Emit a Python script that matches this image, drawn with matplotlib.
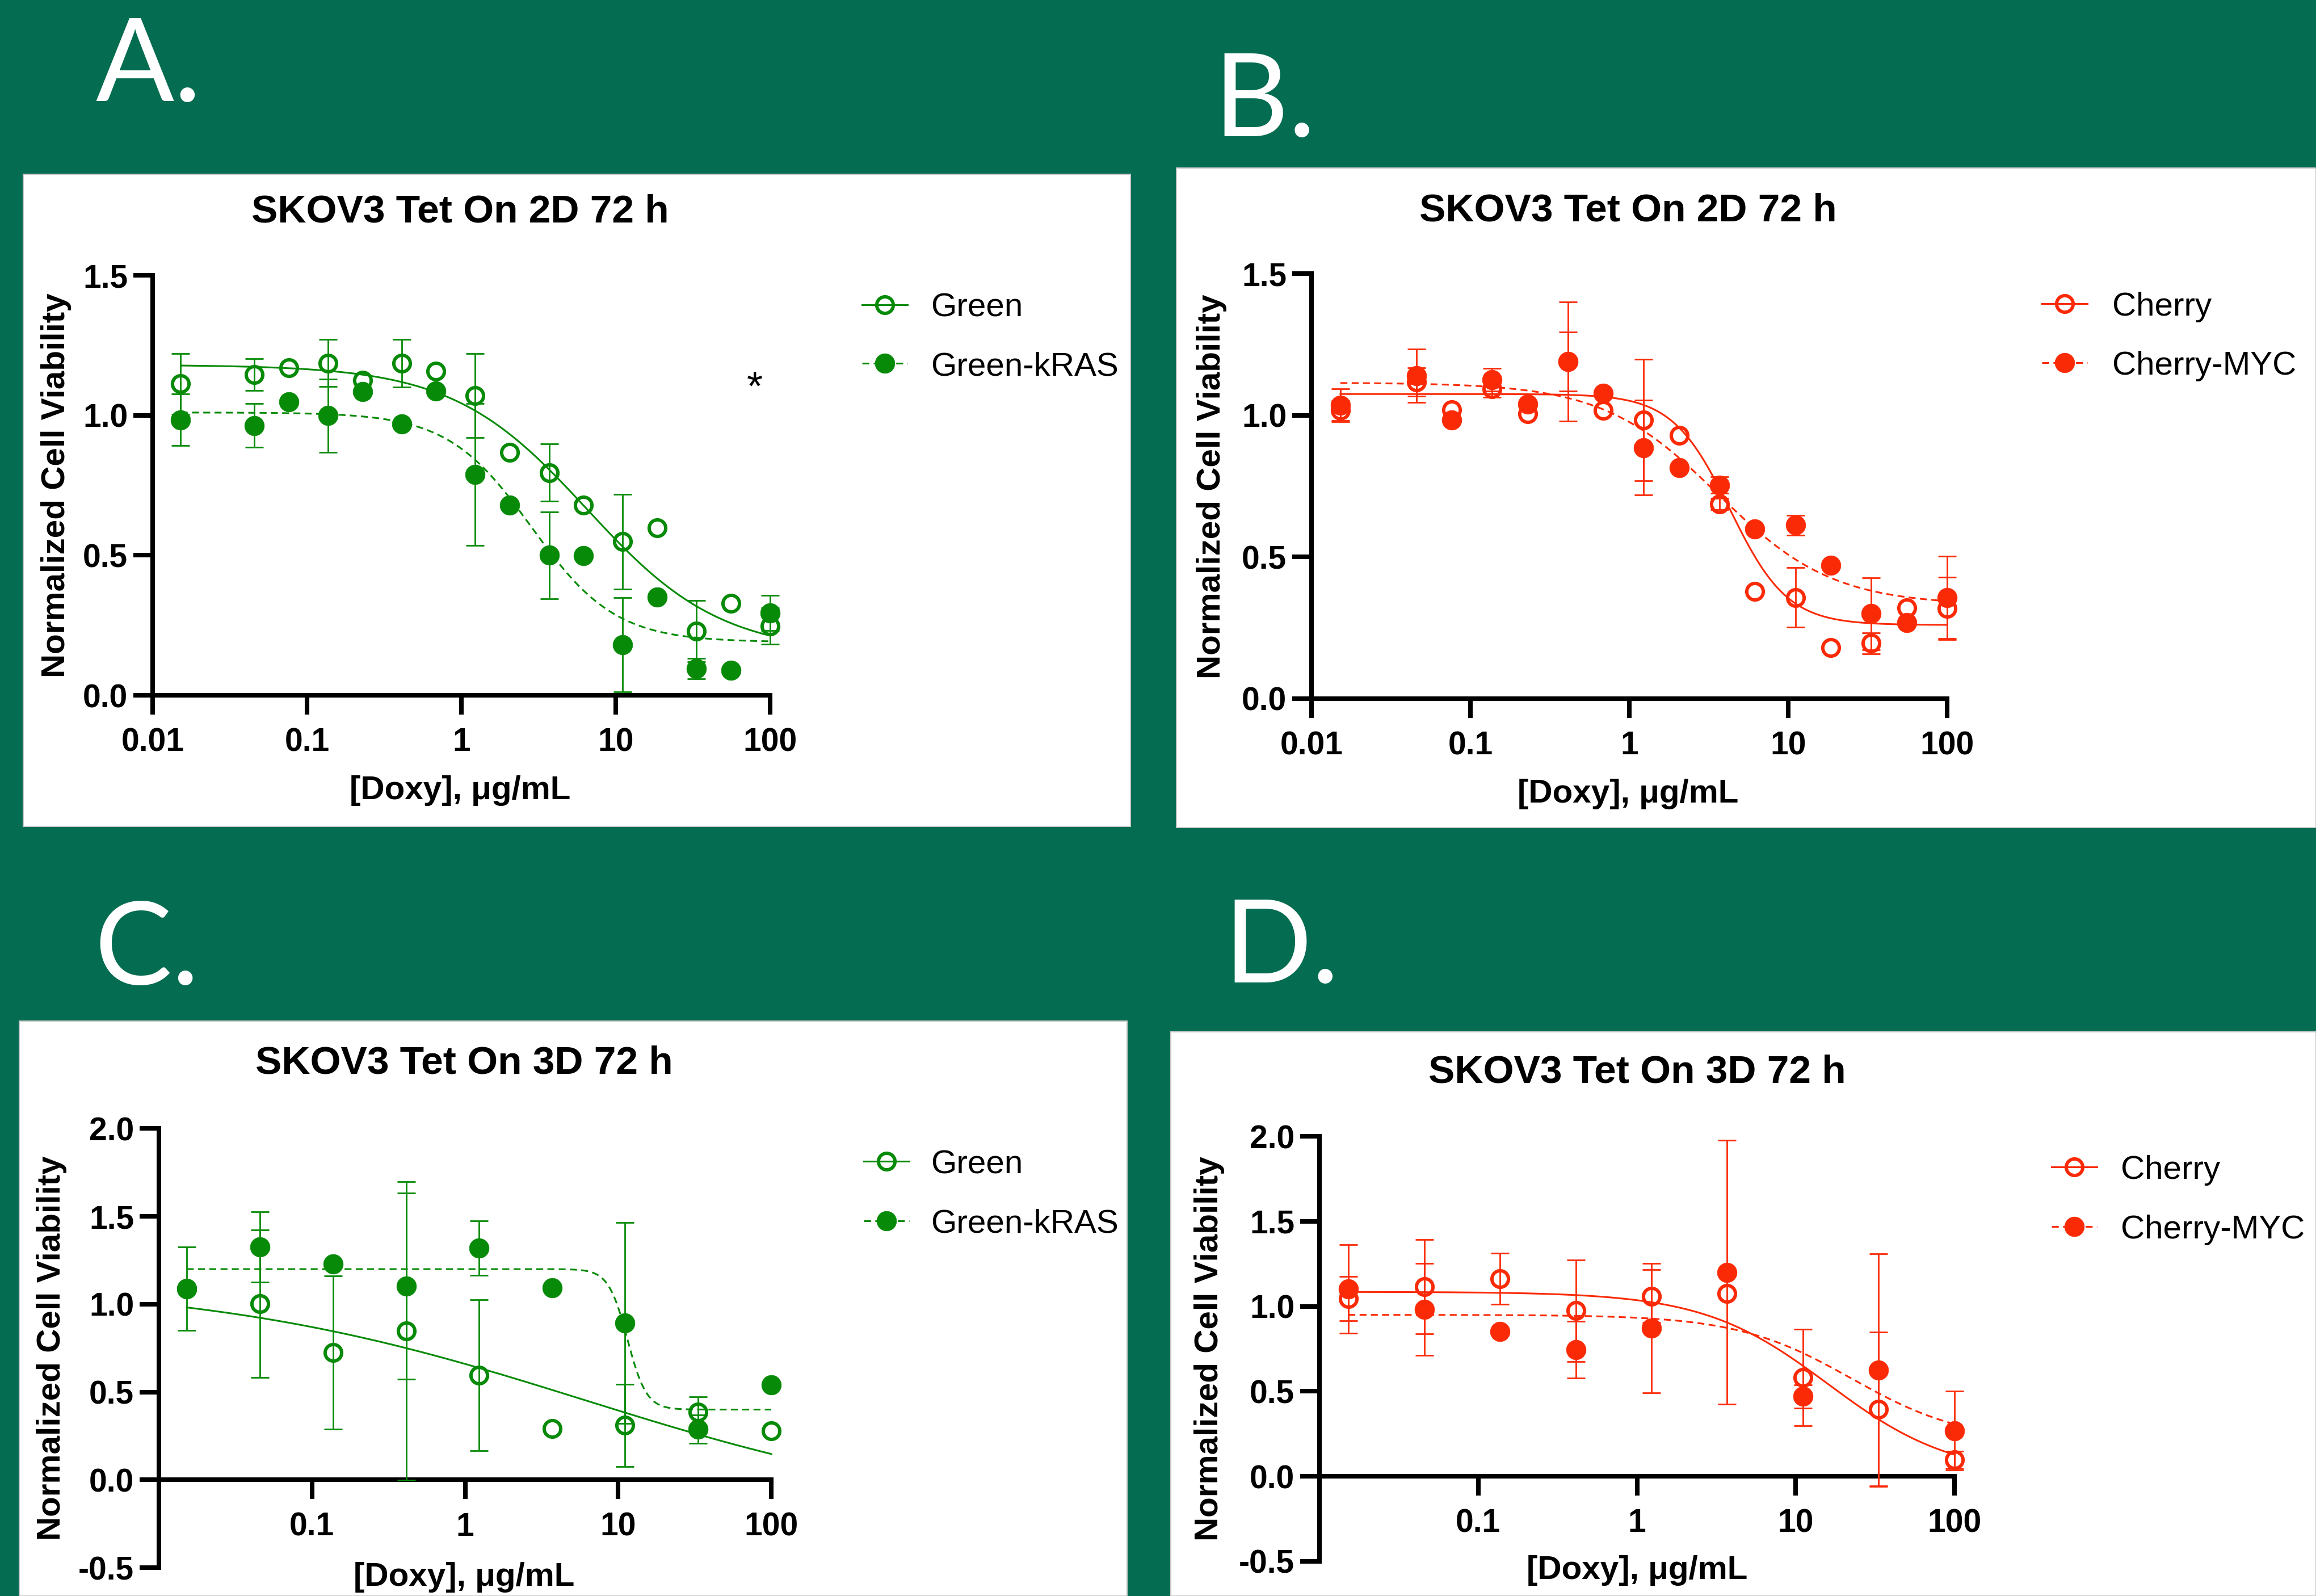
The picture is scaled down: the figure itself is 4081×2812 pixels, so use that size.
import numpy as np
import matplotlib
matplotlib.use("Agg")
import matplotlib.pyplot as plt
from matplotlib.patches import Rectangle
from matplotlib.lines import Line2D

# ---------------------------------------------------------------- data
doses_2d = [0.0152, 0.0457, 0.0762, 0.137, 0.229, 0.412, 0.686, 1.23, 2.06,
            3.70, 6.17, 11.1, 18.5, 33.3, 55.6, 100.0]
doses_3d = [0.0152, 0.0457, 0.137, 0.412, 1.23, 3.70, 11.1, 33.3, 100.0]

# Panel A : 2D, Green vs Green-kRAS
a_green = [1.112, 1.145, 1.169, 1.186, 1.124, 1.186, 1.157, 1.071, 0.868, 0.795,
           0.679, 0.549, 0.598, 0.229, 0.328, 0.247]
a_green_err = [0.109, 0.057, 0, 0.084, 0, 0.085, 0, 0.150, 0, 0.102,
               0, 0.169, 0, 0.110, 0, 0.065]
a_kras = [0.984, 0.963, 1.047, 0.999, 1.084, 0.969, 1.087, 0.789, 0.679, 0.500,
          0.499, 0.180, 0.351, 0.095, 0.090, 0.294]
a_kras_err = [0.093, 0.078, 0, 0.131, 0, 0, 0, 0.253, 0, 0.155,
              0, 0.168, 0, 0.037, 0, 0.063]

# Panel B : 2D, Cherry vs Cherry-MYC
b_cherry = [1.017, 1.117, 1.020, 1.093, 1.005, 1.190, 1.017, 0.984, 0.929, 0.687,
            0.378, 0.357, 0.181, 0.196, 0.321, 0.318]
b_cherry_err = [0.035, 0.050, 0, 0.030, 0, 0.104, 0, 0.214, 0, 0.020,
                0, 0.105, 0, 0.037, 0, 0.110]
b_myc = [1.035, 1.140, 0.984, 1.125, 1.039, 1.189, 1.078, 0.886, 0.816, 0.754,
         0.598, 0.612, 0.470, 0.300, 0.268, 0.357]
b_myc_err = [0.058, 0.094, 0, 0.040, 0, 0.210, 0, 0.168, 0, 0.030,
             0, 0.035, 0, 0.127, 0, 0.145]

# Panel C : 3D, Green vs Green-kRAS
c_green = [1.090, 1.002, 0.725, 0.849, 0.597, 0.291, 0.310, 0.384, 0.279]
c_green_err = [0, 0.420, 0.435, 0.850, 0.430, 0, 0.235, 0.090, 0]
c_kras = [1.088, 1.325, 1.228, 1.103, 1.319, 1.092, 0.893, 0.289, 0.541]
c_kras_err = [0.237, 0.200, 0, 0.530, 0.156, 0, 0.573, 0.082, 0]

# Panel D : 3D, Cherry vs Cherry-MYC
d_cherry = [1.045, 1.115, 1.162, 0.974, 1.060, 1.077, 0.581, 0.396, 0.098]
d_cherry_err = [0.130, 0.277, 0.149, 0.298, 0.155, 0, 0.283, 0.452, 0.050]
d_myc = [1.102, 0.981, 0.851, 0.745, 0.872, 1.200, 0.470, 0.626, 0.268]
d_myc_err = [0.260, 0.270, 0, 0.168, 0.381, 0.775, 0.068, 0.684, 0.232]

# fitted four-parameter logistic curves: [top, bottom, EC50, hill]
a_green_fit = [1.18, 0.15, 6.5, 1.0]
a_kras_fit = [1.01, 0.19, 2.85, 1.6]
b_cherry_fit = [1.075, 0.26, 4.3, 2.4]
b_myc_fit = [1.115, 0.33, 3.6, 1.2]
c_green_fit = [1.13, -0.22, 6.0, 0.35]
c_kras_fit = [1.20, 0.40, 11.5, 7.0]
d_cherry_fit = [1.085, 0.0, 16.0, 1.1]
d_myc_fit = [0.95, 0.20, 22.5, 1.2]

xticks_2d = [0.01, 0.1, 1, 10, 100]
xticks_3d = [0.1, 1, 10, 100]
xticklabels_2d = ["0.01", "0.1", "1", "10", "100"]
xticklabels_3d = ["0.1", "1", "10", "100"]
yticks_2d = [0.0, 0.5, 1.0, 1.5]
yticks_3d = [-0.5, 0.0, 0.5, 1.0, 1.5, 2.0]

titles = ["SKOV3 Tet On 2D 72 h", "SKOV3 Tet On 2D 72 h",
          "SKOV3 Tet On 3D 72 h", "SKOV3 Tet On 3D 72 h"]
legend_a = ["Green", "Green-kRAS"]
legend_b = ["Cherry", "Cherry-MYC"]
letters = ["A.", "B.", "C.", "D."]
xlabel = "[Doxy], \u03bcg/mL"
ylabel = "Normalized Cell Viability"

# ---------------------------------------------------------------- style
W, H = 4081, 2812
BG = "#046c51"
GREEN = "#078a07"
RED = "#fb2a06"
plt.rcParams["font.family"] = ["Liberation Sans", "DejaVu Sans"]

fig = plt.figure(figsize=(W / 100, H / 100), dpi=100)
fig.patch.set_facecolor(BG)


def fx(px):
    return px / W


def fy(py):
    return 1 - py / H


def logistic4(x, top, bottom, ec50, hill):
    x = np.asarray(x, dtype=float)
    return bottom + (top - bottom) / (1 + (x / ec50) ** hill)


# white panel boxes (x0, y0, x1, y1 in px)
boxes = [(41, 307, 1992, 1456), (2073, 296, 4081, 1458),
         (34, 1799, 1986, 2812), (2063, 1818, 4081, 2812)]
for x0, y0, x1, y1 in boxes:
    fig.add_artist(Rectangle((fx(x0), fy(y1)), (x1 - x0) / W, (y1 - y0) / H,
                             transform=fig.transFigure, facecolor="white",
                             edgecolor="#c8c8c8", lw=1.5, zorder=-10))

letter_pos = [(168, 178), (2138, 240), (166, 1734), (2156, 1731)]
for (lx, ly), lt in zip(letter_pos, letters):
    fig.text(fx(lx), fy(ly), lt, color="white", fontsize=147,
             family=["Lato", "DejaVu Sans"], ha="left", va="baseline")

LW_AX = 5.8
OPEN_KW = dict(marker="o", ms=21, mfc="none", mew=4.3, ls="none")
FILL_KW = dict(marker="o", ms=25, mew=0.5, ls="none")
DASH = (0, (4, 2.5))


def panel(geom, ylim, yticks, xticks, xticklabels, doses, s_open, e_open,
          s_fill, e_fill, fit_open, fit_fill, color, title, title_xy,
          xlabel_xy, ylabel_xy, leg_labels, leg_xy):
    left, right, top, bottom = geom
    ax = fig.add_axes([fx(left), fy(bottom), (right - left) / W, (bottom - top) / H])
    ax.patch.set_alpha(0)
    ax.set_xscale("log")
    ax.set_xlim(0.01, 100)
    ax.set_ylim(*ylim)
    for sp in ("top", "right"):
        ax.spines[sp].set_visible(False)
    for sp in ("left", "bottom"):
        ax.spines[sp].set_linewidth(LW_AX)
    ax.spines["bottom"].set_position(("data", 0))
    ax.set_xticks(xticks)
    ax.set_xticklabels(xticklabels)
    ax.minorticks_off()
    ax.set_yticks(yticks)
    ax.set_yticklabels([f"{v:.1f}" for v in yticks])
    ax.tick_params(axis="both", direction="out", length=24.5, width=LW_AX,
                   labelsize=41)
    ax.tick_params(axis="x", pad=16)
    ax.tick_params(axis="y", pad=7)
    ax.xaxis.set_minor_locator(matplotlib.ticker.NullLocator())
    for lbl in ax.get_xticklabels() + ax.get_yticklabels():
        lbl.set_fontweight("bold")

    xs = np.geomspace(doses[0], doses[-1], 500)
    ax.plot(xs, logistic4(xs, *fit_open), color=color, lw=2.2, zorder=2,
            clip_on=False)
    ax.plot(xs, logistic4(xs, *fit_fill), color=color, lw=2.2, ls=DASH,
            zorder=2, clip_on=False)

    d = np.asarray(doses)
    for vals, errs in ((s_open, e_open), (s_fill, e_fill)):
        v = np.asarray(vals)
        e = np.asarray(errs)
        m = e > 0
        eb = ax.errorbar(d[m], v[m], yerr=e[m], fmt="none", ecolor=color,
                         elinewidth=2.0, capsize=11.5, capthick=2.0, zorder=3)
        for art in eb.lines[1] + eb.lines[2]:
            art.set_clip_on(False)
        for art in eb.lines[2]:
            art.set_clip_on(False)
    ax.plot(d, s_open, color=color, mec=color, zorder=4, clip_on=False, **OPEN_KW)
    ax.plot(d, s_fill, color=color, mfc=color, mec=color, zorder=5,
            clip_on=False, **FILL_KW)

    fig.text(fx(title_xy[0]), fy(title_xy[1]), title, fontsize=50,
             fontweight="bold", ha="center", va="baseline")
    fig.text(fx(xlabel_xy[0]), fy(xlabel_xy[1]), xlabel, fontsize=42,
             fontweight="bold", ha="center", va="baseline")
    fig.text(fx(ylabel_xy[0]), fy(ylabel_xy[1]), ylabel, fontsize=42,
             fontweight="bold", ha="center", va="center", rotation=90)

    # legend
    mx, r1, r2, tx = leg_xy
    for row_y, lab, kind in ((r1, leg_labels[0], "open"), (r2, leg_labels[1], "fill")):
        if kind == "open":
            ln = Line2D([fx(mx - 40), fx(mx), fx(mx + 40)], [fy(row_y)] * 3,
                        transform=fig.transFigure, color=color, lw=2.2,
                        markevery=[1], mec=color, **{k: v for k, v in OPEN_KW.items() if k != "ls"})
        else:
            ln = Line2D([fx(mx - 40), fx(mx), fx(mx + 40)], [fy(row_y)] * 3,
                        transform=fig.transFigure, color=color, lw=2.2, ls=DASH,
                        markevery=[1], mfc=color, mec=color,
                        **{k: v for k, v in FILL_KW.items() if k != "ls"})
        fig.add_artist(ln)
        fig.text(fx(tx), fy(row_y + 21), lab, fontsize=42, ha="left",
                 va="baseline")
    return ax


ax_a = panel((269, 1357, 485, 1225), (0, 1.5), yticks_2d, xticks_2d, xticklabels_2d,
             doses_2d, a_green, a_green_err, a_kras, a_kras_err,
             a_green_fit, a_kras_fit, GREEN, titles[0], (811, 392),
             (811, 1408), (99, 855), legend_a, (1559, 537, 640, 1640))
ax_b = panel((2311, 3431, 482, 1231), (0, 1.5), yticks_2d, xticks_2d, xticklabels_2d,
             doses_2d, b_cherry, b_cherry_err, b_myc, b_myc_err,
             b_cherry_fit, b_myc_fit, RED, titles[1], (2869, 390),
             (2869, 1414), (2135, 857), legend_b, (3638, 535, 639, 3722))
ax_c = panel((280, 1359, 1988.5, 2762), (-0.5, 2.0), yticks_3d, xticks_3d, xticklabels_3d,
             doses_3d, c_green, c_green_err, c_kras, c_kras_err,
             c_green_fit, c_kras_fit, GREEN, titles[2], (818, 1892),
             (818, 2794), (91, 2375), legend_a, (1562, 2046, 2151, 1640))
ax_d = panel((2325, 3444, 2002, 2751), (-0.5, 2.0), yticks_3d, xticks_3d, xticklabels_3d,
             doses_3d, d_cherry, d_cherry_err, d_myc, d_myc_err,
             d_cherry_fit, d_myc_fit, RED, titles[3], (2885, 1908),
             (2885, 2782), (2131, 2376), legend_b, (3655, 2056, 2161, 3737))

# significance mark in panel A
fig.text(fx(1330), fy(705), "*", fontsize=52, ha="center", va="baseline")

fig.savefig("out.png", dpi=100, facecolor=fig.get_facecolor())
